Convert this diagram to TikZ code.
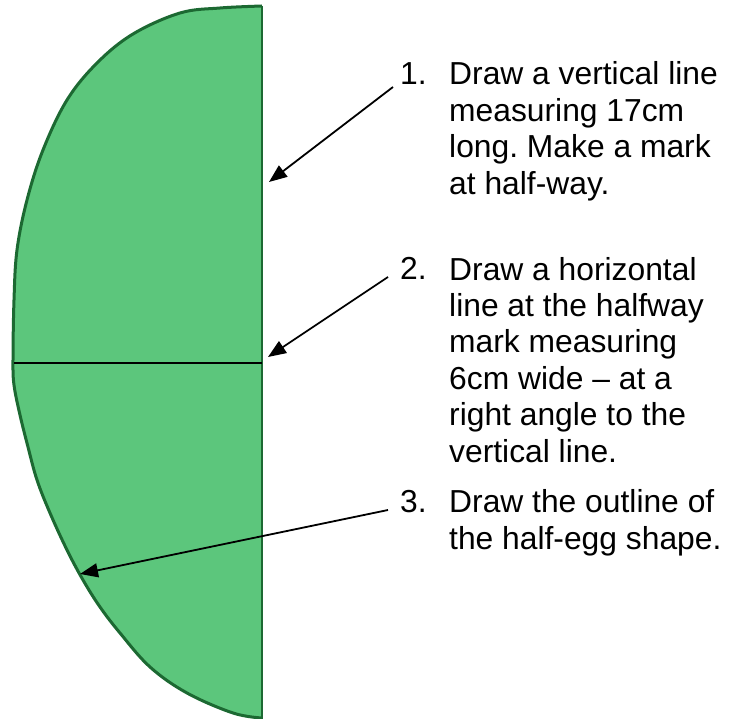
\documentclass[tikz,border=0pt]{standalone}
\usepackage{fontspec}
\setmainfont{Liberation Sans}
\usetikzlibrary{arrows.meta}
\definecolor{eggfill}{RGB}{92,198,124}
\definecolor{eggline}{RGB}{28,105,50}
\tikzset{
  steptext/.style={anchor=base west,inner sep=0pt,align=left,font=\fontsize{31.8}{36.5}\selectfont\frenchspacing},
  stepnum/.style={anchor=base west,inner sep=0pt,font=\fontsize{31.8}{36.5}\selectfont},
  pointer/.style={line width=1.8pt,-{Triangle[length=18pt,width=14pt]}}
}
\def\eggpts{(262,718) (233,713) (187,693) (150,667) (120,633) (100,607) (83,580) (67,550) (50,513) (37,480) (28,447) (20,415) (14,385) (13,360) (14,300) (17,250) (27,200) (43,150) (67,100) (97,63) (133,34) (180,13) (220,8) (262,6)}
\begin{document}
\begin{tikzpicture}[x=1pt,y=-1pt]
\useasboundingbox (0,0) rectangle (732,719);
% half egg
\fill[eggfill] (262,6) -- (262,718)
  plot[smooth,tension=0.6] coordinates {\eggpts} -- cycle;
\draw[eggline,line width=3pt,line join=round]
  plot[smooth,tension=0.6] coordinates {\eggpts};
\draw[eggline,line width=2.2pt] (262,6) -- (262,719);
\draw[black,line width=2.4pt] (14,363) -- (262,363);
% texts
\node[stepnum] (n1) at (400,85) {1.};
\node[steptext] (s1) at (449,194.5) {Draw a vertical line\\measuring 17cm\\long. Make a mark\\at half-way.};
\node[stepnum] (n2) at (400,280) {2.};
\node[steptext] (s2) at (449,462.5) {Draw a horizontal\\line at the halfway\\mark measuring\\6cm wide -- at a\\right angle to the\\vertical line.};
\node[stepnum] (n3) at (400,513) {3.};
\node[steptext] (s3) at (449,549.5) {Draw the outline of\\the half-egg shape.};
% arrows
\coordinate (a1) at (393,87);
\coordinate (h1) at (269,182);
\coordinate (a2) at (388,277);
\coordinate (h2) at (268,357);
\coordinate (a3) at (388,510);
\coordinate (h3) at (80,574);
\draw[pointer] (a1) -- (h1);
\draw[pointer] (a2) -- (h2);
\draw[pointer] (a3) -- (h3);
\end{tikzpicture}
\end{document}
